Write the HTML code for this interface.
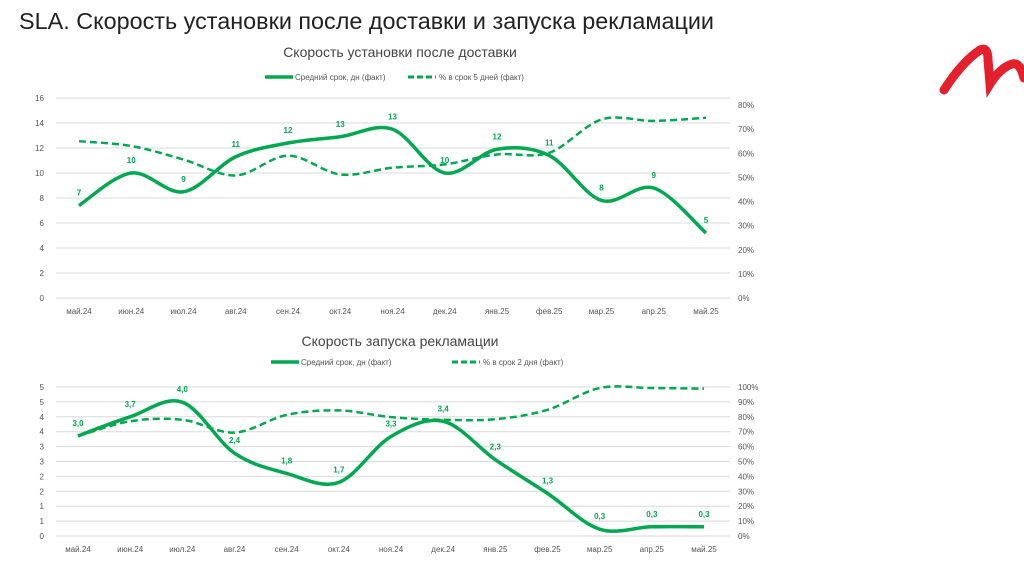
<!DOCTYPE html>
<html><head><meta charset="utf-8"><style>
body{margin:0;background:#fff;width:1024px;height:574px;overflow:hidden;font-family:"Liberation Sans","DejaVu Sans",sans-serif}
svg text{font-family:"Liberation Sans","DejaVu Sans",sans-serif}
</style></head><body>
<svg id="s" width="1024" height="574">
<text x="19" y="29" font-size="23" fill="#222" textLength="695" lengthAdjust="spacingAndGlyphs">SLA. Скорость установки после доставки и запуска рекламации</text>
<path d="M944 90 Q962 62 980 50 Q988 46 988 60 L990 84 Q1000 68 1012 64 Q1020 62 1024 78" stroke="#e3202b" stroke-width="9" fill="none" stroke-linecap="round"/>
</svg>
<script>
const months=["май.24","июн.24","июл.24","авг.24","сен.24","окт.24","ноя.24","дек.24","янв.25","фев.25","мар.25","апр.25","май.25"];
const topDays=[7.4,10.0,8.5,11.3,12.4,12.9,13.5,10.0,11.9,11.4,7.8,8.8,5.2];
const topDayLabels=["7","10","9","11","12","13","13","10","12","11","8","9","5"];
const topPct=[65,63,57.4,50.8,59,51.2,54,55.4,59.5,60.2,74,73.4,74.7];
const topLeftTicks=[0,2,4,6,8,10,12,14,16];
const topRightTicks=[0,10,20,30,40,50,60,70,80];
const botDays=[3.36,4.0,4.49,2.78,2.1,1.8,3.34,3.85,2.56,1.43,0.23,0.31,0.31];
const botDayLabels=["3,0","3,7","4,0","2,4","1,8","1,7","3,3","3,4","2,3","1,3","0,3","0,3","0,3"];
const botPct=[67,77,78,69.4,81.3,84.3,79.8,78,78.4,84.7,99.3,99.3,98.9];
const botLeftTicks=[0,0.5,1,1.5,2,2.5,3,3.5,4,4.5,5];
const botLeftLabels=["0","1","1","2","2","3","3","4","4","5","5"];
const botRightTicks=[0,10,20,30,40,50,60,70,80,90,100];

const svg=document.getElementById('s');const NS="http://www.w3.org/2000/svg";
const G="#00a84f";
function el(t,a,txt){const e=document.createElementNS(NS,t);for(const k in a)e.setAttribute(k,a[k]);if(txt!==undefined)e.textContent=txt;svg.appendChild(e);return e;}
function smooth(p){let d="M"+p[0][0]+" "+p[0][1];for(let i=0;i<p.length-1;i++){const p0=p[i-1]||p[i],p1=p[i],p2=p[i+1],p3=p[i+2]||p2;const c1=[p1[0]+(p2[0]-p0[0])/6,p1[1]+(p2[1]-p0[1])/6],c2=[p2[0]-(p3[0]-p1[0])/6,p2[1]-(p3[1]-p1[1])/6];d+=" C"+c1[0]+" "+c1[1]+" "+c2[0]+" "+c2[1]+" "+p2[0]+" "+p2[1];}return d;}
function chart(o){
 const x=i=>o.x0+i*(o.x1-o.x0)/(months.length-1);
 const yl=v=>o.yb-(v-o.lmin)/(o.lmax-o.lmin)*(o.yb-o.yt);
 const yr=v=>o.yb-v/o.rmax*(o.yb-o.yrt);
 let e=el('text',{x:o.tx,y:o.ty,'font-size':14,fill:'#444','text-anchor':'middle'},o.title);
 
 e=el('line',{x1:o.lg1,y1:o.ly,x2:o.lg1+28,y2:o.ly,stroke:G,'stroke-width':3.5});
 
 e=el('text',{x:o.lg1+30,y:o.ly+3,'font-size':8,fill:'#555'},'Средний срок, дн (факт)');
 
 e=el('line',{x1:o.lg2,y1:o.ly,x2:o.lg2+28,y2:o.ly,stroke:G,'stroke-width':3,'stroke-dasharray':'6 3'});
 
 e=el('text',{x:o.lg2+31,y:o.ly+3,'font-size':8,fill:'#555'},o.leg2);
 
 o.lt.forEach((v,i)=>{const y=yl(v);
  let g=el('line',{x1:56,x2:730,y1:y,y2:y,stroke:'#d9d9d9','stroke-width':1});
  
  let t=el('text',{x:44,y:y+3,'font-size':8,fill:'#555','text-anchor':'end'},o.ltl[i]);
  });
 o.rt.forEach(v=>{let t=el('text',{x:738,y:yr(v)+3,'font-size':8,fill:'#555'},v+'%');
  });
 months.forEach((m,i)=>{let t=el('text',{x:x(i),y:o.yb+16,'font-size':8,fill:'#555','text-anchor':'middle'},m);
  });
 let d=el('path',{d:smooth(o.pct.map((v,i)=>[x(i),yr(v)])),stroke:G,'stroke-width':2.5,fill:'none','stroke-dasharray':'7 4'});
 
 let s=el('path',{d:smooth(o.days.map((v,i)=>[x(i),yl(v)])),stroke:G,'stroke-width':3.5,fill:'none'});
 
 o.days.forEach((v,i)=>{let t=el('text',{x:x(i),y:yl(v)-10,'font-size':8,'font-weight':'bold',fill:G,'text-anchor':'middle'},o.lab[i]);
  });
}
chart({p:'install',x0:79,x1:706,yb:298,yt:98,yrt:105,lmin:0,lmax:16,rmax:80,lt:topLeftTicks,ltl:topLeftTicks.map(String),rt:topRightTicks,days:topDays,pct:topPct,lab:topDayLabels,title:'Скорость установки после доставки',tx:400,ty:57,ly:77,lg1:265,lg2:408,leg2:'% в срок 5 дней (факт)'});
chart({p:'claim',x0:78,x1:704,yb:536,yt:387,yrt:387,lmin:0,lmax:5,rmax:100,lt:botLeftTicks,ltl:botLeftLabels,rt:botRightTicks,days:botDays,pct:botPct,lab:botDayLabels,title:'Скорость запуска рекламации',tx:400,ty:346,ly:362,lg1:271,lg2:452,leg2:'% в срок 2 дня (факт)'});
</script>
</body></html>
